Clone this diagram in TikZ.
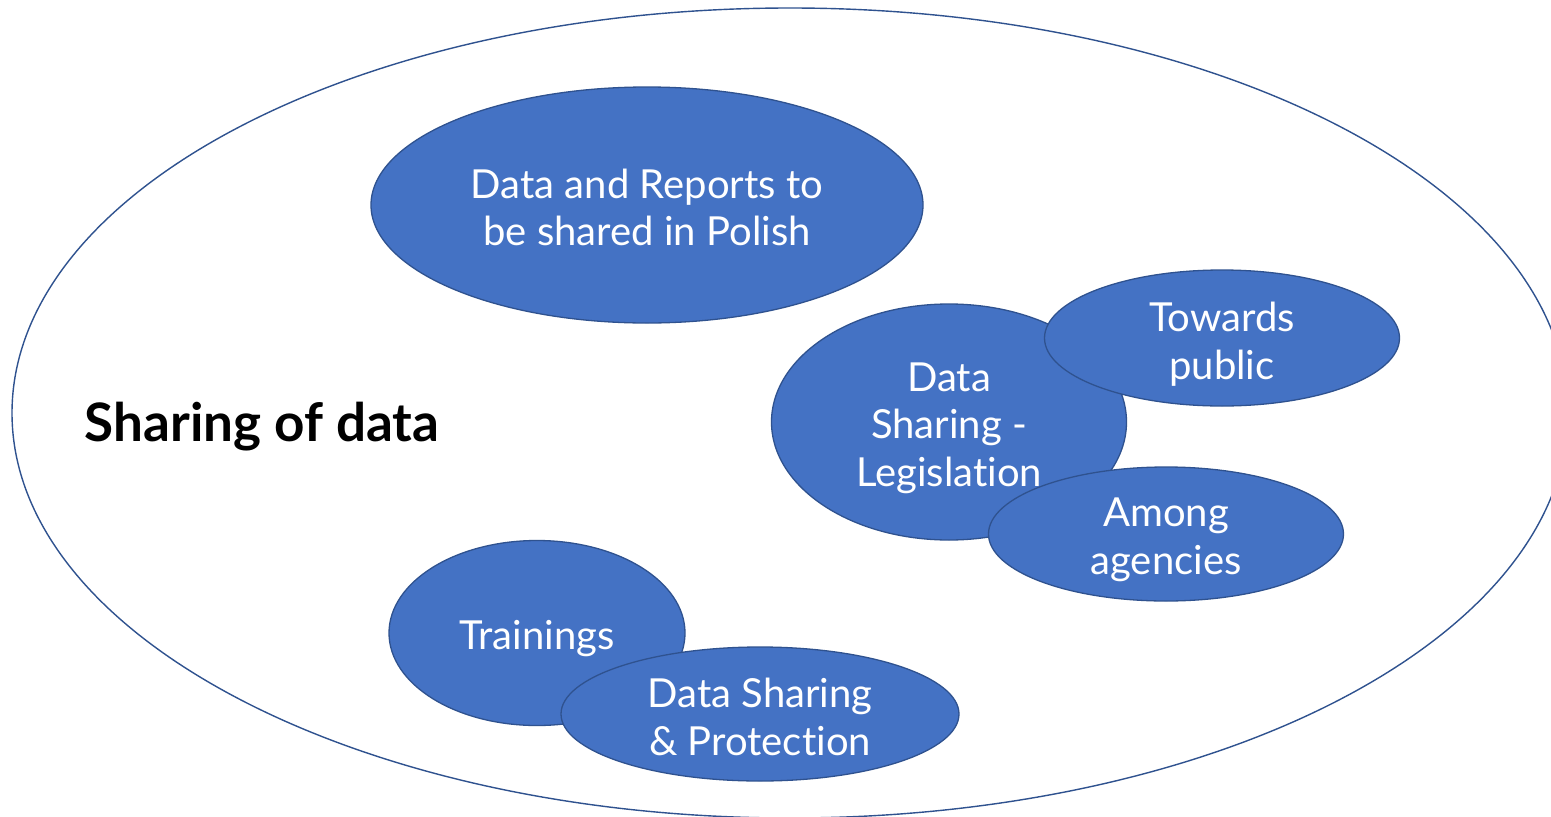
\documentclass[tikz,border=0pt]{standalone}
\usepackage{fontspec}
\setmainfont{Lato}[Ligatures=NoCommon]
\usetikzlibrary{shapes.geometric}
\definecolor{fillblue}{HTML}{4472C4}
\definecolor{edgeblue}{HTML}{2F528F}
\tikzset{
  blob/.style={ellipse, draw=edgeblue, line width=1.3pt, fill=fillblue, inner sep=0pt},
  blobtext/.style={text=white, align=center, inner sep=0pt, font=\fontsize{40}{47.5}\selectfont},
}
\begin{document}
\begin{tikzpicture}[x=1pt,y=-1pt]
\useasboundingbox (0,0) rectangle (1551,817);
\fill[white] (0,0) rectangle (1551,817);
\begin{scope}
\clip (0,0) rectangle (1551,817);
\draw[edgeblue, line width=1.4pt] (790,413) ellipse [x radius=778, y radius=405];
\end{scope}
\node[font=\bfseries\fontsize{53}{60}\selectfont, anchor=center] (title) at (262,427) {Sharing of data};
\node[blob, minimum width=552, minimum height=236, label={[blobtext, yshift=-2.5pt]center:{Data and Reports to\\be shared in Polish}}] (reports) at (647,205) {};
\node[blob, minimum width=355, minimum height=236, label={[blobtext, yshift=-6pt]center:{Data\\Sharing -\\Legislation}}] (legis) at (949,422) {};
\node[blob, minimum width=355, minimum height=136, label={[blobtext, yshift=-6pt]center:{Towards\\public}}] (public) at (1222,338) {};
\node[blob, minimum width=355, minimum height=134, label={[blobtext, yshift=-6pt]center:{Among\\agencies}}] (among) at (1166,534) {};
\node[blob, minimum width=296, minimum height=185, label={[blobtext, yshift=-6pt]center:{Trainings}}] (train) at (537,633) {};
\node[blob, minimum width=398, minimum height=134, label={[blobtext, yshift=-3pt]center:{Data Sharing\\\& Protection}}] (protect) at (760,714) {};
\end{tikzpicture}
\end{document}
